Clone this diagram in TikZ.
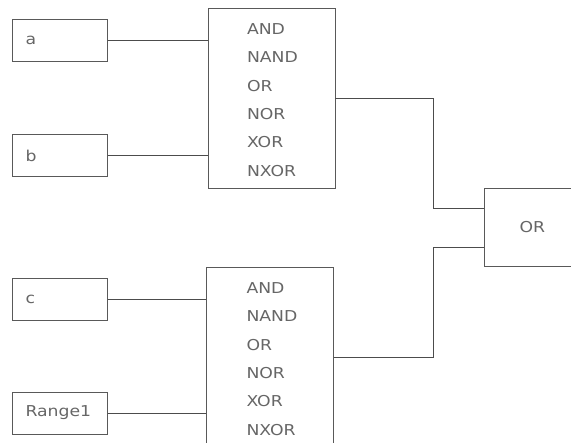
\documentclass[tikz,border=0pt]{standalone}
\usepackage{fontspec}
\usepackage{tikz}
\newfontfamily\diagfont[FakeStretch=1.15]{DejaVu Sans}

\begin{document}
\begin{tikzpicture}[x=1pt, y=-1pt, line width=0.7pt,
  every node/.style={font=\diagfont\fontsize{15}{18}\selectfont, text=black!60},
  inbox/.style={draw=black!65, minimum height=42pt, text width=69pt, inner xsep=13pt, align=left},
  gatebox/.style={draw=black!65, minimum width=127pt, minimum height=180pt, inner sep=0pt},
  oplabel/.style={anchor=west, inner sep=0pt},
  wire/.style={draw=black!70}]
\useasboundingbox (0,0) rectangle (571,443);
% inputs
\node[inbox] (a) at (60,40) {a};
\node[inbox] (b) at (60,155.5) {b};
\node[inbox] (c) at (60,299) {c};
\node[inbox] (r) at (60,413) {Range1};
% gates
\node[gatebox] (g1) at (271.5,98) {};
\node[gatebox] (g2) at (270,357) {};
\foreach \op [count=\i] in {AND,NAND,OR,NOR,XOR,NXOR} {
  \node[oplabel] (g1op\i) at ([xshift=39pt,yshift=-21.5pt-28.3pt*(\i-1)]g1.north west) {\op};
  \node[oplabel] (g2op\i) at ([xshift=40pt,yshift=-21.5pt-28.3pt*(\i-1)]g2.north west) {\op};
}
\node[draw=black!65, minimum width=96pt, minimum height=78pt, anchor=north west] (orbox) at (484,188) {OR};
\coordinate (bus) at (433,0);
\coordinate (orin1) at ([yshift=-20pt]orbox.north west);
\coordinate (orin2) at ([yshift=19pt]orbox.south west);
% wires
\draw[wire] (a.east) -- (a.east -| g1.west);
\draw[wire] (b.east) -- (b.east -| g1.west);
\draw[wire] (c.east) -- (c.east -| g2.west);
\draw[wire] (r.east) -- (r.east -| g2.west);
\draw[wire] (g1.east) -| (bus |- orin1) -- (orin1);
\draw[wire] (g2.east) -| (bus |- orin2) -- (orin2);
\end{tikzpicture}
\end{document}
